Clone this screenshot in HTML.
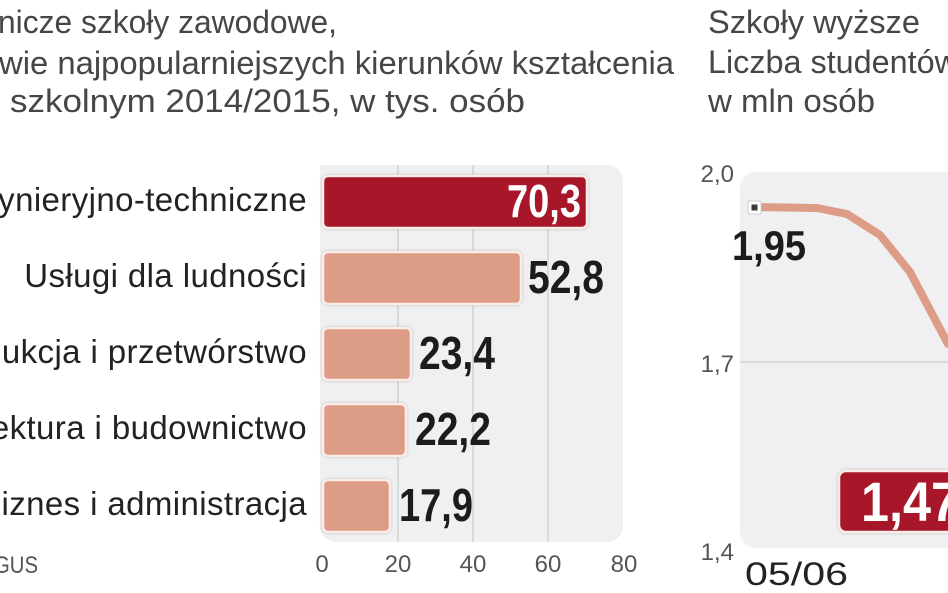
<!DOCTYPE html>
<html>
<head>
<meta charset="utf-8">
<style>
  html,body{margin:0;padding:0;background:#fff;}
  body{width:948px;height:593px;overflow:hidden;}
  svg{display:block;}
  text{font-family:"Liberation Sans", "DejaVu Sans", sans-serif;}
</style>
</head>
<body>
<svg width="948" height="593" viewBox="0 0 948 593" xmlns="http://www.w3.org/2000/svg">
  <defs>
    <filter id="sh" x="-10%" y="-20%" width="120%" height="140%">
      <feDropShadow dx="0" dy="0" stdDeviation="1.2" flood-color="#888" flood-opacity="0.55"/>
    </filter>
  </defs>
  <rect x="0" y="0" width="948" height="593" fill="#ffffff"/>

  <!-- Left title -->
  <g fill="#464646" font-size="32">
    <text x="-2" y="33" textLength="339" lengthAdjust="spacingAndGlyphs">nicze szkoły zawodowe,</text>
    <text x="-1" y="74" textLength="675" lengthAdjust="spacingAndGlyphs">wie najpopularniejszych kierunków kształcenia</text>
    <text x="10" y="112" textLength="515" lengthAdjust="spacingAndGlyphs">szkolnym 2014/2015, w tys. osób</text>
  </g>

  <!-- Right title -->
  <g fill="#464646" font-size="32">
    <text x="708" y="33" textLength="212" lengthAdjust="spacingAndGlyphs">Szkoły wyższe</text>
    <text x="708" y="73" textLength="250" lengthAdjust="spacingAndGlyphs">Liczba studentów</text>
    <text x="708" y="112" textLength="167" lengthAdjust="spacingAndGlyphs">w mln osób</text>
  </g>

  <!-- Bar chart panel -->
  <path d="M320,165 H607 A16,16 0 0 1 623,181 V526 A16,16 0 0 1 607,542 H336 A16,16 0 0 1 320,526 Z" fill="#f0f0f2"/>
  <g stroke="#d2d2d6" stroke-width="1.5">
    <line x1="398" y1="165" x2="398" y2="542"/>
    <line x1="473" y1="165" x2="473" y2="542"/>
    <line x1="548" y1="165" x2="548" y2="542"/>
  </g>

  <!-- Bars -->
  <g stroke="#fbeee9" stroke-width="2.5" filter="url(#sh)">
    <rect x="323" y="176" width="264" height="52" rx="5" fill="#a8132b"/>
    <rect x="323" y="252" width="198" height="52" rx="5" fill="#dc9c86"/>
    <rect x="323" y="328" width="88" height="52" rx="5" fill="#dc9c86"/>
    <rect x="323" y="404" width="83" height="52" rx="5" fill="#dc9c86"/>
    <rect x="323" y="480" width="67" height="52" rx="5" fill="#dc9c86"/>
  </g>

  <!-- Value labels -->
  <g font-size="46" font-weight="bold">
    <text x="507" y="217" fill="#ffffff" textLength="74" lengthAdjust="spacingAndGlyphs">70,3</text>
    <text x="528" y="293" fill="#1c1c1c" textLength="76" lengthAdjust="spacingAndGlyphs">52,8</text>
    <text x="419" y="369" fill="#1c1c1c" textLength="76" lengthAdjust="spacingAndGlyphs">23,4</text>
    <text x="415" y="445" fill="#1c1c1c" textLength="76" lengthAdjust="spacingAndGlyphs">22,2</text>
    <text x="399" y="521" fill="#1c1c1c" textLength="74" lengthAdjust="spacingAndGlyphs">17,9</text>
  </g>

  <!-- Category labels -->
  <g fill="#222222" font-size="33" text-anchor="end" letter-spacing="0.4">
    <text x="307" y="211">Inżynieryjno-techniczne</text>
    <text x="307" y="287">Usługi dla ludności</text>
    <text x="307" y="363">Produkcja i przetwórstwo</text>
    <text x="307" y="439">Architektura i budownictwo</text>
    <text x="307" y="515">Biznes i administracja</text>
  </g>

  <!-- X tick labels -->
  <g fill="#555555" font-size="24" text-anchor="middle">
    <text x="322" y="572">0</text>
    <text x="398" y="572">20</text>
    <text x="473" y="572">40</text>
    <text x="548" y="572">60</text>
    <text x="624" y="572">80</text>
  </g>
  <text x="-6" y="573" fill="#555555" font-size="24" textLength="44" lengthAdjust="spacingAndGlyphs">GUS</text>

  <!-- Line chart panel -->
  <path d="M740,188 A16,16 0 0 1 756,172 H960 V548 H756 A16,16 0 0 1 740,532 Z" fill="#f0f0f2"/>
  <line x1="740" y1="362" x2="948" y2="362" stroke="#d2d2d6" stroke-width="1.5"/>

  <!-- Y labels -->
  <g fill="#555555" font-size="24" text-anchor="end">
    <text x="734" y="182">2,0</text>
    <text x="734" y="372">1,7</text>
    <text x="734" y="560">1,4</text>
  </g>
  <text x="745" y="585" fill="#222222" font-size="32" textLength="103" lengthAdjust="spacingAndGlyphs">05/06</text>

  <!-- Line -->
  <polyline points="755,207 817,208 847,214 880,235 910,272 948,344" fill="none" stroke="#dc9c86" stroke-width="8" stroke-linejoin="round" stroke-linecap="round"/>

  <!-- Marker -->
  <rect x="748" y="201" width="13" height="13" rx="1.5" fill="#ffffff" stroke="#cfcfcf" stroke-width="1"/>
  <rect x="751.5" y="204.5" width="6" height="6" fill="#3a3a3a"/>

  <!-- 1,95 label -->
  <text x="732" y="260" fill="#1c1c1c" font-size="42" font-weight="bold" textLength="74" lengthAdjust="spacingAndGlyphs">1,95</text>

  <!-- 1,47 box -->
  <rect x="839" y="471" width="140" height="61" rx="7" fill="#a8132b" stroke="#fbeee9" stroke-width="2.5" filter="url(#sh)"/>
  <text x="861" y="521" fill="#ffffff" font-size="56" font-weight="bold" textLength="98" lengthAdjust="spacingAndGlyphs">1,47</text>
</svg>
</body>
</html>
